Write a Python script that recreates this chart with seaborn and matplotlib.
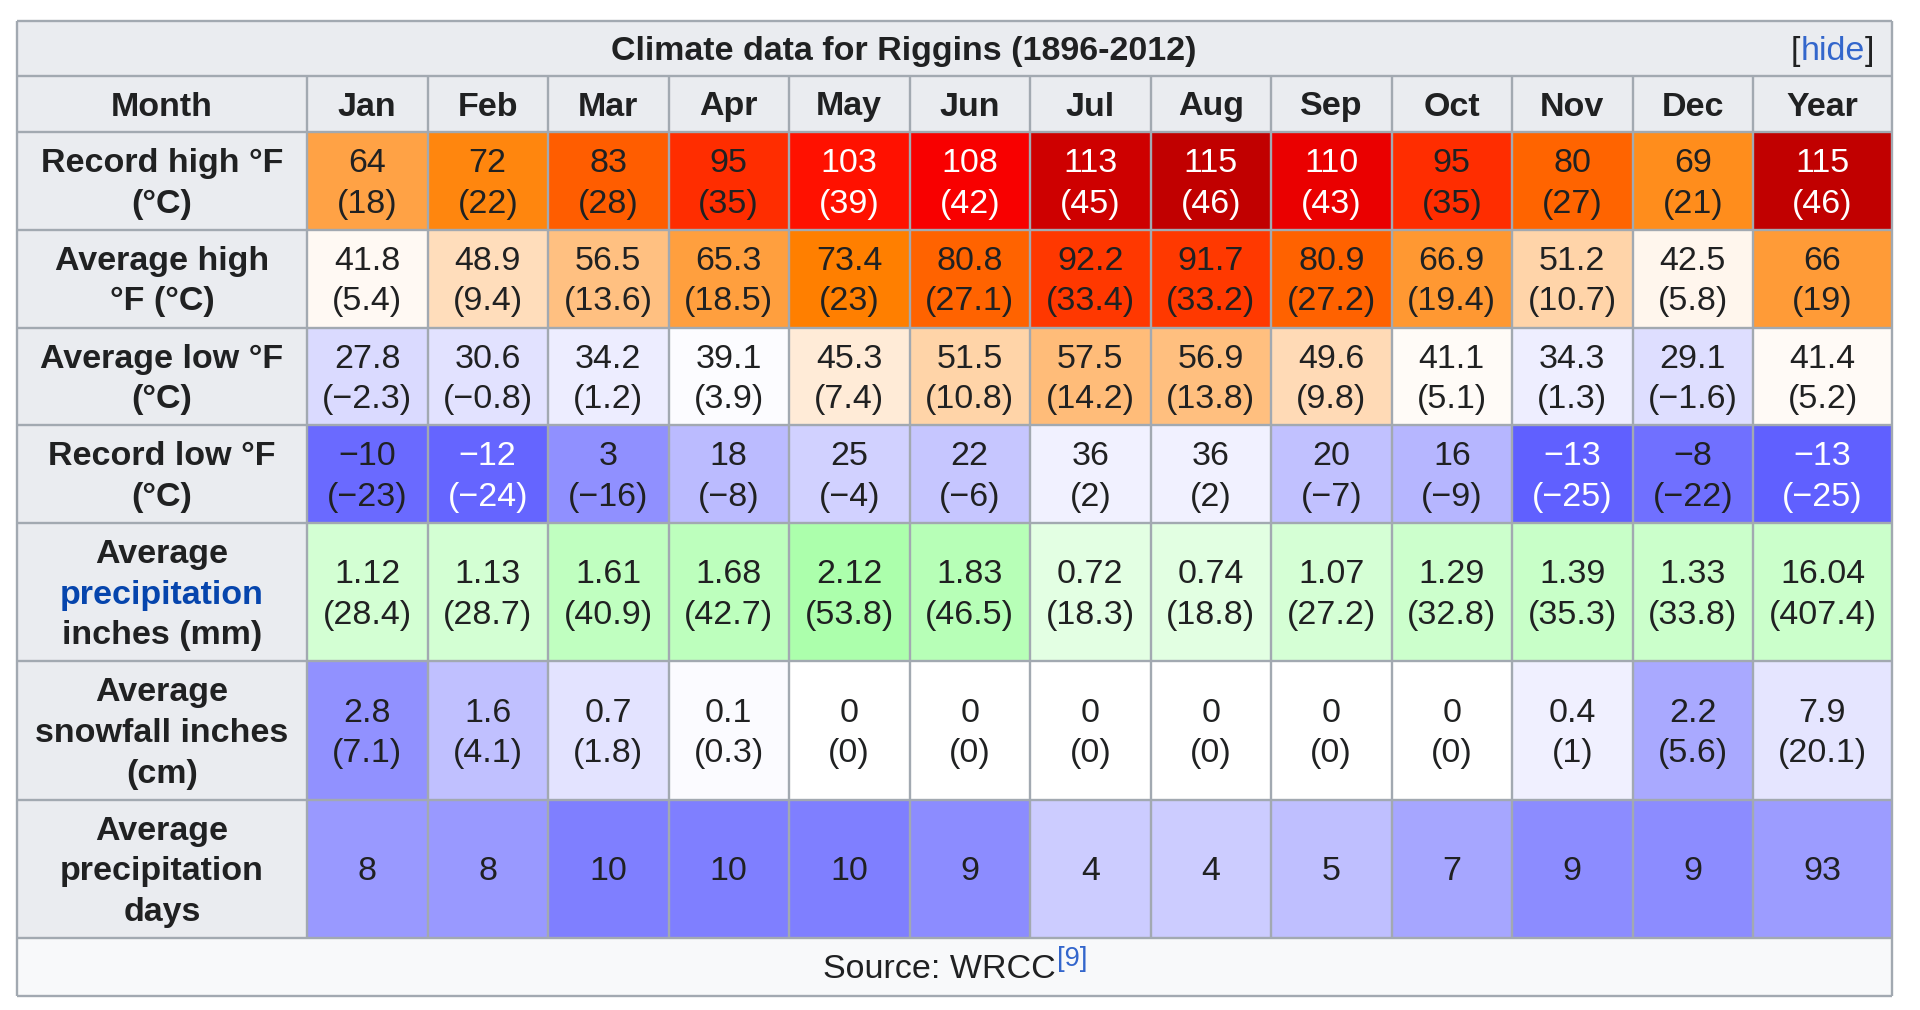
import numpy as np
import pandas as pd
import matplotlib
matplotlib.use("Agg")
import matplotlib.pyplot as plt
import seaborn as sns
from matplotlib.colors import LinearSegmentedColormap
from matplotlib.patches import Rectangle

sns.set_theme(style="white")
plt.rcParams['font.family'] = ['Liberation Sans', 'DejaVu Sans']

# ---------------- data ----------------
title = "Climate data for Riggins (1896-2012)"
months = ["Jan", "Feb", "Mar", "Apr", "May", "Jun", "Jul", "Aug", "Sep", "Oct", "Nov", "Dec"]
year_label = "Year"
corner_label = "Month"

record_high_f = [64, 72, 83, 95, 103, 108, 113, 115, 110, 95, 80, 69]
record_high_c = [18, 22, 28, 35, 39, 42, 45, 46, 43, 35, 27, 21]
record_high_year = (115, 46)

avg_high_f = [41.8, 48.9, 56.5, 65.3, 73.4, 80.8, 92.2, 91.7, 80.9, 66.9, 51.2, 42.5]
avg_high_c = [5.4, 9.4, 13.6, 18.5, 23, 27.1, 33.4, 33.2, 27.2, 19.4, 10.7, 5.8]
avg_high_year = (66, 19)

avg_low_f = [27.8, 30.6, 34.2, 39.1, 45.3, 51.5, 57.5, 56.9, 49.6, 41.1, 34.3, 29.1]
avg_low_c = [-2.3, -0.8, 1.2, 3.9, 7.4, 10.8, 14.2, 13.8, 9.8, 5.1, 1.3, -1.6]
avg_low_year = (41.4, 5.2)

record_low_f = [-10, -12, 3, 18, 25, 22, 36, 36, 20, 16, -13, -8]
record_low_c = [-23, -24, -16, -8, -4, -6, 2, 2, -7, -9, -25, -22]
record_low_year = (-13, -25)

precip_in = [1.12, 1.13, 1.61, 1.68, 2.12, 1.83, 0.72, 0.74, 1.07, 1.29, 1.39, 1.33]
precip_mm = [28.4, 28.7, 40.9, 42.7, 53.8, 46.5, 18.3, 18.8, 27.2, 32.8, 35.3, 33.8]
precip_year = (16.04, 407.4)

snow_in = [2.8, 1.6, 0.7, 0.1, 0, 0, 0, 0, 0, 0, 0.4, 2.2]
snow_cm = [7.1, 4.1, 1.8, 0.3, 0, 0, 0, 0, 0, 0, 1, 5.6]
snow_year = (7.9, 20.1)

precip_days = [8, 8, 10, 10, 10, 9, 4, 4, 5, 7, 9, 9]
precip_days_year = 93

row_labels = [
    [("Record high °F", None), ("(°C)", None)],
    [("Average high", None), ("°F (°C)", None)],
    [("Average low °F", None), ("(°C)", None)],
    [("Record low °F", None), ("(°C)", None)],
    [("Average", None), ("precipitation", "link"), ("inches (mm)", None)],
    [("Average", None), ("snowfall inches", None), ("(cm)", None)],
    [("Average", None), ("precipitation", None), ("days", None)],
]
source_text = "Source: WRCC"
source_ref = "[9]"

# ---------------- style ----------------
W, H = 1920, 1010
FS = 24.5                 # points
LINE_PX = 40.5            # line step in pixels
DY = 3                    # downward text nudge in pixels
TXT = "#202122"
LINK = "#0645AD"
LINK2 = "#3366CC"
HEAD_BG = "#EAECF0"
SRC_BG = "#F8F9FA"
BORDER = "#A2A9B1"

# layout in pixels
X_LEFT, X_LAB, X_YEAR, X_RIGHT = 17, 307, 1753, 1892
Y_TOP, Y_HEAD, Y_BODY, Y_LOWER, Y_SRC, Y_BOT = 21, 76, 132, 523, 938, 996
n_temp_rows, n_low_rows = 4, 3
temp_h = (Y_LOWER - Y_BODY) / n_temp_rows
low_h = (Y_SRC - Y_LOWER) / n_low_rows

# colour maps (Wikipedia weather-box style)
t_lo, t_hi = -42.75, 60.0
def tpos(t):
    return (t - t_lo) / (t_hi - t_lo)
temp_cmap = LinearSegmentedColormap.from_list(
    "wikitemp",
    [(tpos(-42.75), (0, 0, 1)), (tpos(4.5), (1, 1, 1)), (tpos(23), (1, 0.5, 0)),
     (tpos(41.5), (1, 0, 0)), (tpos(60), (0, 0, 0))], N=2048)
precip_cmap = LinearSegmentedColormap.from_list("wikiprecip", [(1, 1, 1), (0, 1, 0)], N=1024)
snow_cmap = LinearSegmentedColormap.from_list("wikisnow", [(1, 1, 1), (0, 0, 1)], N=1024)
days_cmap = LinearSegmentedColormap.from_list("wikidays", [(1, 1, 1), (0, 0, 1)], N=1024)


def fmt(v):
    s = f"{v:g}"
    return s.replace("-", "\u2212")


def temp_textcolor(c):
    return "white" if (c >= 38 or c < -23) else TXT


fig = plt.figure(figsize=(W / 100, H / 100), dpi=100)
fig.patch.set_facecolor("white")


def add_px_axes(x0, y0, x1, y1, z=1):
    ax = fig.add_axes([x0 / W, 1 - y1 / H, (x1 - x0) / W, (y1 - y0) / H], zorder=z)
    return ax


# background axes
ax_bg = add_px_axes(0, 0, W, H, z=0)
ax_bg.set_xlim(0, W)
ax_bg.set_ylim(H, 0)
ax_bg.set_axis_off()
ax_bg.add_patch(Rectangle((X_LEFT, Y_TOP), X_RIGHT - X_LEFT, Y_BODY - Y_TOP, fc=HEAD_BG, ec="none"))
ax_bg.add_patch(Rectangle((X_LEFT, Y_BODY), X_LAB - X_LEFT, Y_SRC - Y_BODY, fc=HEAD_BG, ec="none"))
ax_bg.add_patch(Rectangle((X_LEFT, Y_SRC), X_RIGHT - X_LEFT, Y_BOT - Y_SRC, fc=SRC_BG, ec="none"))


def heat_block(x0, y0, x1, y1, values, cmap, vmin, vmax, texts, colors):
    ax = add_px_axes(x0, y0, x1, y1, z=1)
    sns.heatmap(pd.DataFrame(values), ax=ax, cmap=cmap, vmin=vmin, vmax=vmax, cbar=False,
                xticklabels=False, yticklabels=False, linewidths=0)
    ax.set_axis_off()
    for i, row in enumerate(texts):
        for j, lines in enumerate(row):
            n = len(lines)
            for k, line in enumerate(lines):
                off_pt = -((k - (n - 1) / 2) * LINE_PX + DY) * 0.72
                ax.annotate(line, (j + 0.5, i + 0.5), xytext=(0, off_pt), textcoords="offset points",
                            ha="center", va="center", fontsize=FS, color=colors[i][j])
    return ax


# ---- temperature block ----
temp_f = [record_high_f, avg_high_f, avg_low_f, record_low_f]
temp_c = [record_high_c, avg_high_c, avg_low_c, record_low_c]
temp_year = [record_high_year, avg_high_year, avg_low_year, record_low_year]

tvals = np.array(temp_c, dtype=float)
ttexts = [[[fmt(f), f"({fmt(c)})"] for f, c in zip(fr, cr)] for fr, cr in zip(temp_f, temp_c)]
tcols = [[temp_textcolor(c) for c in cr] for cr in temp_c]
heat_block(X_LAB, Y_BODY, X_YEAR, Y_LOWER, tvals, temp_cmap, t_lo, t_hi, ttexts, tcols)

tyv = np.array([[c] for f, c in temp_year], dtype=float)
tyt = [[[fmt(f), f"({fmt(c)})"]] for f, c in temp_year]
tyc = [[temp_textcolor(c)] for f, c in temp_year]
heat_block(X_YEAR, Y_BODY, X_RIGHT, Y_LOWER, tyv, temp_cmap, t_lo, t_hi, tyt, tyc)

# ---- precipitation ----
ya, yb = Y_LOWER, Y_LOWER + low_h
heat_block(X_LAB, ya, X_YEAR, yb, np.array([precip_mm]), precip_cmap, 0, 165,
           [[[fmt(a), f"({fmt(b)})"] for a, b in zip(precip_in, precip_mm)]], [[TXT] * 12])
heat_block(X_YEAR, ya, X_RIGHT, yb, np.array([[precip_year[1] / 12]]), precip_cmap, 0, 165,
           [[[fmt(precip_year[0]), f"({fmt(precip_year[1])})"]]], [[TXT]])

# ---- snowfall ----
ya, yb = Y_LOWER + low_h, Y_LOWER + 2 * low_h
heat_block(X_LAB, ya, X_YEAR, yb, np.array([snow_cm]), snow_cmap, 0, 16.5,
           [[[fmt(a), f"({fmt(b)})"] for a, b in zip(snow_in, snow_cm)]], [[TXT] * 12])
heat_block(X_YEAR, ya, X_RIGHT, yb, np.array([[snow_year[1] / 12]]), snow_cmap, 0, 16.5,
           [[[fmt(snow_year[0]), f"({fmt(snow_year[1])})"]]], [[TXT]])

# ---- precipitation days ----
ya, yb = Y_LOWER + 2 * low_h, Y_SRC
heat_block(X_LAB, ya, X_YEAR, yb, np.array([precip_days]), days_cmap, 0, 20,
           [[[fmt(d)] for d in precip_days]], [[TXT] * 12])
heat_block(X_YEAR, ya, X_RIGHT, yb, np.array([[precip_days_year / 12]]), days_cmap, 0, 20,
           [[[fmt(precip_days_year)]]], [[TXT]])

# ---------------- overlay: borders and header text ----------------
ax = add_px_axes(0, 0, W, H, z=5)
ax.set_xlim(0, W)
ax.set_ylim(H, 0)
ax.set_axis_off()
ax.patch.set_alpha(0)

lw = 1.7
row_edges = [Y_TOP, Y_HEAD, Y_BODY] + [Y_BODY + temp_h * k for k in range(1, 5)] + \
            [Y_LOWER + low_h * k for k in range(1, 3)] + [Y_SRC, Y_BOT]
ax.hlines(row_edges, X_LEFT, X_RIGHT, colors=BORDER, lw=lw)
month_w = (X_YEAR - X_LAB) / 12
col_edges = [X_LAB + month_w * k for k in range(13)]
ax.vlines(col_edges, Y_HEAD, Y_SRC, colors=BORDER, lw=lw)
ax.vlines([X_LEFT, X_RIGHT], Y_TOP, Y_BOT, colors=BORDER, lw=lw)

# header row
yh = (Y_HEAD + Y_BODY) / 2 + DY
ax.text((X_LEFT + X_LAB) / 2, yh, corner_label, ha="center", va="center", fontsize=FS,
        fontweight="bold", color=TXT)
for k, m in enumerate(months):
    ax.text(X_LAB + month_w * (k + 0.5), yh, m, ha="center", va="center", fontsize=FS,
            fontweight="bold", color=TXT)
ax.text((X_YEAR + X_RIGHT) / 2, yh, year_label, ha="center", va="center", fontsize=FS,
        fontweight="bold", color=TXT)

# row labels
row_centers = [Y_BODY + temp_h * (k + 0.5) for k in range(4)] + \
              [Y_LOWER + low_h * (k + 0.5) for k in range(3)]
for yc, lines in zip(row_centers, row_labels):
    n = len(lines)
    for k, (s, kind) in enumerate(lines):
        ax.text((X_LEFT + X_LAB) / 2, yc + (k - (n - 1) / 2) * LINE_PX + DY, s, ha="center",
                va="center", fontsize=FS, fontweight="bold", color=LINK if kind == "link" else TXT)

# title row
yt = (Y_TOP + Y_HEAD) / 2 + DY
ax.text(904, yt, title, ha="center", va="center", fontsize=FS, fontweight="bold", color=TXT)

fig.canvas.draw()
renderer = fig.canvas.get_renderer()

x = 1874
for s, col in [("]", TXT), ("hide", LINK2), ("[", TXT)]:
    t = ax.text(x, yt, s, ha="right", va="center", fontsize=FS, color=col)
    x -= t.get_window_extent(renderer).width

# source row
ys = (Y_SRC + Y_BOT) / 2 + DY
t1 = ax.text(0, ys, source_text, ha="left", va="center", fontsize=FS, color=TXT)
t2 = ax.text(0, ys - 11, source_ref, ha="left", va="center", fontsize=FS * 0.8, color=LINK2)
w1 = t1.get_window_extent(renderer).width
w2 = t2.get_window_extent(renderer).width
start = (X_LEFT + X_RIGHT) / 2 - (w1 + w2) / 2
t1.set_x(start)
t2.set_x(start + w1 + 1)

fig.savefig("out.png", dpi=100, facecolor="white")
